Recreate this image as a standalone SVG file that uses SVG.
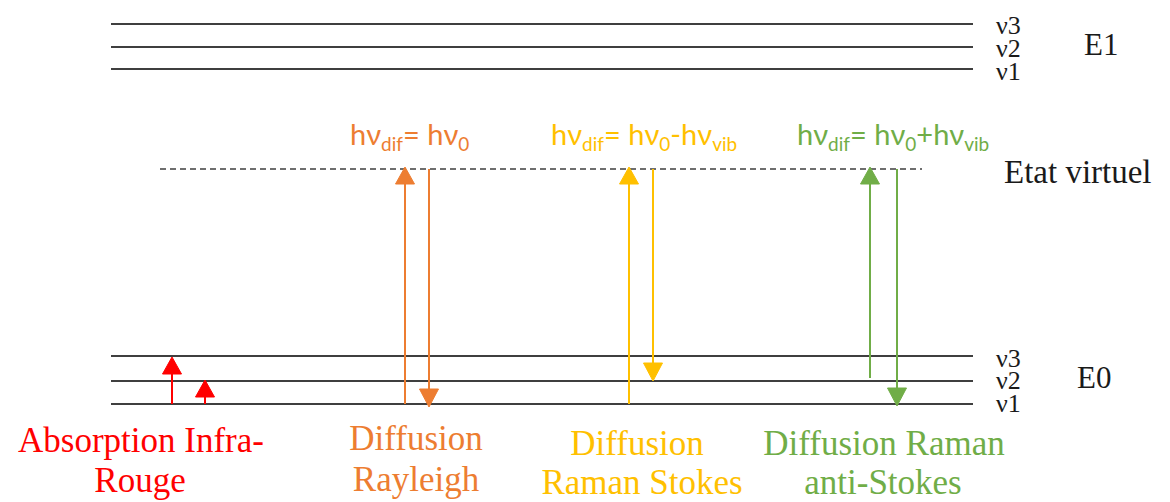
<svg xmlns="http://www.w3.org/2000/svg" width="1170" height="502" viewBox="0 0 1170 502">
<style>
.lvl{stroke:#3f3f3f;stroke-width:2;fill:none}
.dash{stroke:#3f3f3f;stroke-width:1.5;stroke-dasharray:6 4;fill:none}
.serif{font-family:"Liberation Serif","Times New Roman",serif;fill:#1a1a1a}
.nu{font-size:26px}
.lab{font-family:"Liberation Serif","Times New Roman",serif;font-size:35px;text-anchor:middle}
.frm{font-family:Lato,"Open Sans",sans-serif;font-size:29px}
.sub{font-size:19px}
.red{fill:#ff0000;stroke:#ff0000}
.org{fill:#ed7d31;stroke:#ed7d31}
.yel{fill:#ffc000;stroke:#ffc000}
.grn{fill:#70ad47;stroke:#70ad47}
line.a{stroke-width:2}
text{stroke:none}
</style>
<g id="levels-E1">
<line class="lvl" x1="111" y1="24" x2="973" y2="24"/>
<line class="lvl" x1="111" y1="47" x2="973" y2="47"/>
<line class="lvl" x1="111" y1="69" x2="973" y2="69"/>
<text class="serif nu" x="996" y="34">ν3</text>
<text class="serif nu" x="996" y="57">ν2</text>
<text class="serif nu" x="996" y="80">ν1</text>
<text class="serif" x="1084" y="55" font-size="31">E1</text>
</g>
<g id="virtual-state">
<line class="dash" x1="160" y1="169" x2="922" y2="169"/>
<text class="serif" x="1004" y="183" font-size="33">Etat virtuel</text>
</g>
<g id="levels-E0">
<line class="lvl" x1="111" y1="356" x2="973" y2="356"/>
<line class="lvl" x1="111" y1="381" x2="973" y2="381"/>
<line class="lvl" x1="111" y1="404" x2="973" y2="404"/>
<text class="serif nu" x="996" y="367">ν3</text>
<text class="serif nu" x="996" y="389">ν2</text>
<text class="serif nu" x="996" y="412">ν1</text>
<text class="serif" x="1077" y="388" font-size="31">E0</text>
</g>
<g id="connectors">
<g id="ir-arrows" class="red">
<line class="a" x1="172" y1="404" x2="172" y2="372"/>
<polygon points="172,357 162.5,374 181.5,374"/>
<line class="a" x1="205" y1="404" x2="205" y2="395"/>
<polygon points="205,380 195.5,397 214.5,397"/>
</g>
<g id="rayleigh-arrows" class="org">
<line class="a" x1="405" y1="404" x2="405" y2="182"/>
<polygon points="405,167 395.5,184 414.5,184"/>
<line class="a" x1="429" y1="169" x2="429" y2="391"/>
<polygon points="429,407 419.5,389 438.5,389"/>
</g>
<g id="stokes-arrows" class="yel">
<line class="a" x1="629" y1="404" x2="629" y2="182"/>
<polygon points="629,167 619.5,184 638.5,184"/>
<line class="a" x1="653" y1="169" x2="653" y2="365"/>
<polygon points="653,381 643.5,363 662.5,363"/>
</g>
<g id="antistokes-arrows" class="grn">
<line class="a" x1="870" y1="378" x2="870" y2="182"/>
<polygon points="870,167 860.5,184 879.5,184"/>
<line class="a" x1="897" y1="169" x2="897" y2="390"/>
<polygon points="897,406 887.5,388 906.5,388"/>
</g>
</g>
<g id="ir-label" class="red">
<text class="lab" x="141" y="452">Absorption Infra-</text>
<text class="lab" x="140" y="492">Rouge</text>
</g>
<g id="rayleigh" class="org">
<text class="frm" x="350" y="145">hν<tspan class="sub" dy="6">dif</tspan><tspan dy="-6">= hν</tspan><tspan class="sub" dy="6">0</tspan></text>
<text class="lab" x="416" y="450">Diffusion</text>
<text class="lab" x="416" y="491">Rayleigh</text>
</g>
<g id="stokes" class="yel">
<text class="frm" x="551" y="145">hν<tspan class="sub" dy="6">dif</tspan><tspan dy="-6">= hν</tspan><tspan class="sub" dy="6">0</tspan><tspan dy="-6">-hν</tspan><tspan class="sub" dy="6">vib</tspan></text>
<text class="lab" x="637" y="455">Diffusion</text>
<text class="lab" x="642" y="494">Raman Stokes</text>
</g>
<g id="antistokes" class="grn">
<text class="frm" x="797" y="145">hν<tspan class="sub" dy="6">dif</tspan><tspan dy="-6">= hν</tspan><tspan class="sub" dy="6">0</tspan><tspan dy="-6">+hν</tspan><tspan class="sub" dy="6">vib</tspan></text>
<text class="lab" x="884" y="455">Diffusion Raman</text>
<text class="lab" x="883" y="494">anti-Stokes</text>
</g>
</svg>
